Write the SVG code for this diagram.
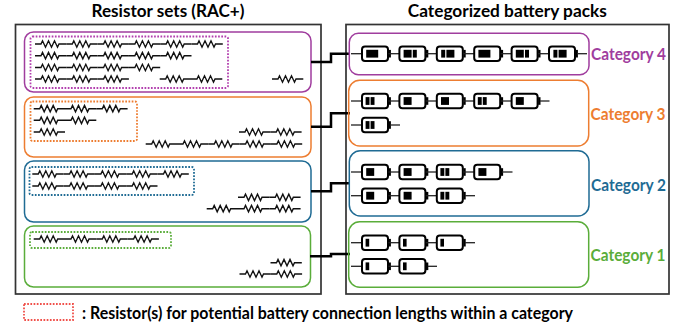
<svg xmlns="http://www.w3.org/2000/svg" xmlns:xlink="http://www.w3.org/1999/xlink" width="686" height="331" viewBox="0 0 686 331">
<style>
text{font-family:Lato,"Open Sans","Liberation Sans",sans-serif;font-weight:700}
.t{font-size:16.5px;fill:#000}
.c{font-size:17px}
.l{font-size:16.5px;fill:#000}
.panel{fill:none;stroke:#333;stroke-width:1.7}
.cat{fill:none;stroke-width:1.5}
.dot{fill:none;stroke-width:1.8;stroke-dasharray:1.7 1.5}
.wire{fill:none;stroke:#000;stroke-width:2.5}
.r{fill:none;stroke:#111;stroke-width:1.4}
.bb{fill:#fff;stroke:#000;stroke-width:2}
.lead{stroke:#222;stroke-width:1.3}
</style>
<defs>
<path id="r" class="r" d="M0 0H6L7.5-3.2L10.5 3.2L13.5-3.2L16.5 3.2L19.5-3.2L22.5 3.2L24 0H31.3"/>
<g id="b"><line class="lead" x1="-11" y1="0" x2="0" y2="0"/><rect class="bb" x="0" y="-7.3" width="26" height="14.6" rx="3"/><rect x="26.5" y="-3.8" width="2.4" height="7.6" fill="#000"/></g>
<g id="b1"><use xlink:href="#b"/><rect x="3.6" y="-3.9" width="3.6" height="7.8"/></g>
<g id="b2"><use xlink:href="#b"/><rect x="4.2" y="-3.9" width="8" height="7.8"/></g>
<g id="b3"><use xlink:href="#b"/><rect x="3.6" y="-3.9" width="3.9" height="7.8"/><rect x="8.6" y="-3.9" width="3.9" height="7.8"/></g>
<g id="b4"><use xlink:href="#b"/><rect x="4.2" y="-3.9" width="12" height="7.8"/></g>
<g id="b5"><use xlink:href="#b"/><rect x="4.2" y="-3.9" width="8" height="7.8"/><rect x="13.4" y="-3.9" width="4" height="7.8"/></g>
<g id="b6"><use xlink:href="#b"/><rect x="4.4" y="-3.9" width="4" height="7.8"/><rect x="9.6" y="-3.9" width="8" height="7.8"/></g>
</defs>
<text class="t" x="168" y="16.5" text-anchor="middle" textLength="153" lengthAdjust="spacingAndGlyphs">Resistor sets (RAC+)</text>
<text class="t" x="507.3" y="16.5" text-anchor="middle" textLength="199" lengthAdjust="spacingAndGlyphs">Categorized battery packs</text>
<g id="resistor-panel"><rect class="panel" x="15.5" y="24.5" width="305.5" height="269.5"/></g>
<g id="battery-panel"><rect class="panel" x="346" y="24.5" width="323" height="269.5"/></g>
<g id="resistors-4">
<rect class="cat" x="24.5" y="32" width="286.5" height="60" rx="9" stroke="#a03d9e"/>
<rect class="dot" x="30.5" y="36.5" width="197.5" height="51.5" rx="2" stroke="#b23fae"/>
<use xlink:href="#r" x="35" y="44"/><use xlink:href="#r" x="66.3" y="44"/><use xlink:href="#r" x="97.6" y="44"/><use xlink:href="#r" x="128.9" y="44"/><use xlink:href="#r" x="160.2" y="44"/><use xlink:href="#r" x="191.5" y="44"/>
<use xlink:href="#r" x="35" y="55.7"/><use xlink:href="#r" x="66.3" y="55.7"/><use xlink:href="#r" x="97.6" y="55.7"/><use xlink:href="#r" x="128.9" y="55.7"/><use xlink:href="#r" x="160.2" y="55.7"/>
<use xlink:href="#r" x="35" y="67.5"/><use xlink:href="#r" x="66.3" y="67.5"/><use xlink:href="#r" x="97.6" y="67.5"/><use xlink:href="#r" x="128.9" y="67.5"/>
<use xlink:href="#r" x="35" y="79"/><use xlink:href="#r" x="66.3" y="79"/><use xlink:href="#r" x="97.6" y="79"/>
<use xlink:href="#r" x="159.7" y="79"/><use xlink:href="#r" x="191" y="79"/>
<use xlink:href="#r" x="272" y="79"/>
</g>
<g id="resistors-3">
<rect class="cat" x="24.5" y="97" width="286.5" height="60" rx="9" stroke="#ed7d31"/>
<rect class="dot" x="30.5" y="101.5" width="106.5" height="39.5" rx="2" stroke="#ed7d31"/>
<use xlink:href="#r" x="33.7" y="108.7"/><use xlink:href="#r" x="65" y="108.7"/><use xlink:href="#r" x="96.3" y="108.7"/>
<use xlink:href="#r" x="33.7" y="120.3"/><use xlink:href="#r" x="65" y="120.3"/>
<use xlink:href="#r" x="33.7" y="132"/>
<use xlink:href="#r" x="239" y="132"/><use xlink:href="#r" x="270.3" y="132"/>
<use xlink:href="#r" x="145.7" y="144"/><use xlink:href="#r" x="177" y="144"/><use xlink:href="#r" x="208.3" y="144"/><use xlink:href="#r" x="239.6" y="144"/><use xlink:href="#r" x="270.9" y="144"/>
</g>
<g id="resistors-2">
<rect class="cat" x="24.5" y="161" width="286.5" height="61" rx="9" stroke="#1f6b94"/>
<rect class="dot" x="29.5" y="167" width="164.5" height="28" rx="2" stroke="#1f6b94"/>
<use xlink:href="#r" x="32.3" y="174"/><use xlink:href="#r" x="63.6" y="174"/><use xlink:href="#r" x="94.9" y="174"/><use xlink:href="#r" x="126.2" y="174"/><use xlink:href="#r" x="157.5" y="174"/>
<use xlink:href="#r" x="32.3" y="186"/><use xlink:href="#r" x="63.6" y="186"/><use xlink:href="#r" x="94.9" y="186"/><use xlink:href="#r" x="126.2" y="186"/>
<use xlink:href="#r" x="238" y="197.3"/><use xlink:href="#r" x="269.3" y="197.3"/>
<use xlink:href="#r" x="206.7" y="208.7"/><use xlink:href="#r" x="238" y="208.7"/><use xlink:href="#r" x="269.3" y="208.7"/>
</g>
<g id="resistors-1">
<rect class="cat" x="24.5" y="226" width="286" height="61" rx="9" stroke="#5aad3a"/>
<rect class="dot" x="30" y="232" width="141" height="16" rx="2" stroke="#5aad3a"/>
<use xlink:href="#r" x="33.7" y="239"/><use xlink:href="#r" x="65" y="239"/><use xlink:href="#r" x="96.3" y="239"/><use xlink:href="#r" x="127.6" y="239"/>
<use xlink:href="#r" x="270.5" y="262.7"/>
<use xlink:href="#r" x="239.5" y="274"/><use xlink:href="#r" x="270.8" y="274"/>
</g>
<g id="connectors">
<path class="wire" d="M311 62H331V53.7H350"/>
<path class="wire" d="M311 126.7H331V113.3H350"/>
<path class="wire" d="M311 191.3H331V183.3H350"/>
<path class="wire" d="M310 256.3H331V254H350"/>
</g>
<g id="packs-4">
<rect class="cat" x="349.3" y="33.3" width="239.7" height="41.4" rx="9" stroke="#a03d9e"/>
<use xlink:href="#b4" x="362" y="53.7"/><use xlink:href="#b5" x="399.4" y="53.7"/><use xlink:href="#b6" x="436.8" y="53.7"/><use xlink:href="#b4" x="474.2" y="53.7"/><use xlink:href="#b5" x="511.6" y="53.7"/><use xlink:href="#b6" x="549" y="53.7"/>
<line class="lead" x1="577" y1="53.7" x2="587" y2="53.7"/>
<text class="c" x="628.5" y="60" text-anchor="middle" fill="#a03d9e" textLength="75" lengthAdjust="spacingAndGlyphs">Category 4</text>
</g>
<g id="packs-3">
<rect class="cat" x="348.7" y="80.3" width="240" height="65.7" rx="11" stroke="#ed7d31"/>
<use xlink:href="#b3" x="362" y="101"/><use xlink:href="#b2" x="399.4" y="101"/><use xlink:href="#b2" x="436.8" y="101"/><use xlink:href="#b3" x="474.2" y="101"/><use xlink:href="#b2" x="511.6" y="101"/>
<line class="lead" x1="540" y1="101" x2="549.5" y2="101"/>
<use xlink:href="#b3" x="362" y="125"/>
<line class="lead" x1="390" y1="125" x2="400" y2="125"/>
<text class="c" x="628" y="119.5" text-anchor="middle" fill="#ed7d31" textLength="75" lengthAdjust="spacingAndGlyphs">Category 3</text>
</g>
<g id="packs-2">
<rect class="cat" x="349.3" y="150.7" width="239.7" height="65.3" rx="11" stroke="#1f6b94"/>
<use xlink:href="#b2" x="362" y="172"/><use xlink:href="#b2" x="399.4" y="172"/><use xlink:href="#b3" x="436.8" y="172"/><use xlink:href="#b2" x="474.2" y="172"/>
<line class="lead" x1="502" y1="172" x2="512.5" y2="172"/>
<use xlink:href="#b2" x="362" y="195.7"/><use xlink:href="#b2" x="399.4" y="195.7"/><use xlink:href="#b3" x="436.8" y="195.7"/>
<line class="lead" x1="465" y1="195.7" x2="475" y2="195.7"/>
<text class="c" x="628.5" y="190.5" text-anchor="middle" fill="#1f6b94" textLength="75" lengthAdjust="spacingAndGlyphs">Category 2</text>
</g>
<g id="packs-1">
<rect class="cat" x="348.7" y="221.7" width="240" height="65.6" rx="11" stroke="#5aad3a"/>
<use xlink:href="#b1" x="362" y="242.7"/><use xlink:href="#b1" x="399.4" y="242.7"/><use xlink:href="#b1" x="436.8" y="242.7"/>
<line class="lead" x1="465" y1="242.7" x2="475" y2="242.7"/>
<use xlink:href="#b1" x="362" y="266.3"/><use xlink:href="#b1" x="399.4" y="266.3"/>
<line class="lead" x1="428" y1="266.3" x2="437" y2="266.3"/>
<text class="c" x="628" y="260.5" text-anchor="middle" fill="#5aad3a" textLength="75" lengthAdjust="spacingAndGlyphs">Category 1</text>
</g>
<g id="legend">
<rect class="dot" x="24" y="304" width="49" height="16" stroke="#f0504a"/>
<text class="l" x="82" y="318.5" textLength="491" lengthAdjust="spacingAndGlyphs">: Resistor(s) for potential battery connection lengths within a category</text>
</g>
</svg>
